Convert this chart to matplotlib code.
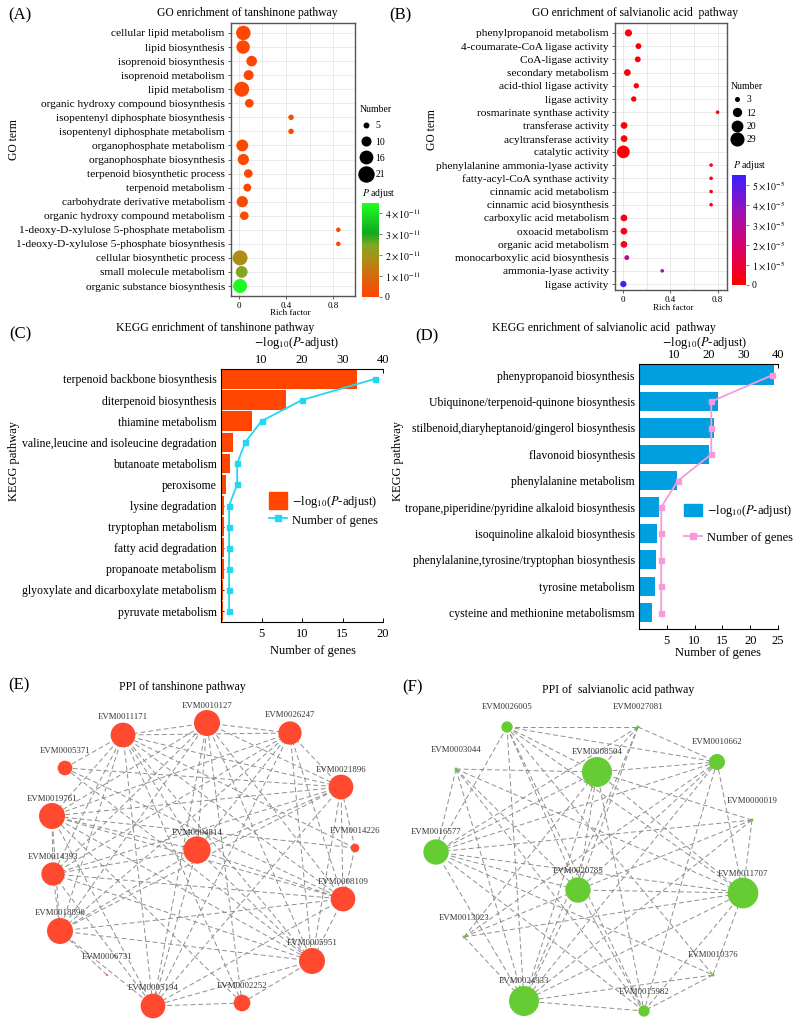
import numpy as np
import matplotlib
matplotlib.use("Agg")
import matplotlib.pyplot as plt
from matplotlib.colors import LinearSegmentedColormap, Normalize
from matplotlib.cm import ScalarMappable
from matplotlib.lines import Line2D
from matplotlib.patches import Patch

plt.rcParams['font.family'] = ['Liberation Serif', 'DejaVu Serif']
plt.rcParams['mathtext.fontset'] = 'stix'

# ---------------- data ----------------
# (A) GO enrichment, tanshinone
go_terms_a = ["cellular lipid metabolism", "lipid biosynthesis", "isoprenoid biosynthesis",
              "isoprenoid metabolism", "lipid metabolism", "organic hydroxy compound biosynthesis",
              "isopentenyl diphosphate biosynthesis", "isopentenyl diphosphate metabolism",
              "organophosphate metabolism", "organophosphate biosynthesis",
              "terpenoid biosynthetic process", "terpenoid metabolism",
              "carbohydrate derivative metabolism", "organic hydroxy compound metabolism",
              "1-deoxy-D-xylulose 5-phosphate metabolism", "1-deoxy-D-xylulose 5-phosphate biosynthesis",
              "cellular biosynthetic process", "small molecule metabolism", "organic substance biosynthesis"]
rich_a = [0.037, 0.035, 0.108, 0.082, 0.023, 0.088, 0.443, 0.443, 0.028, 0.037,
          0.079, 0.071, 0.028, 0.045, 0.845, 0.845, 0.009, 0.023, 0.009]
count_a = [20, 18, 13, 12, 21, 10, 6, 6, 15, 14, 10, 9, 14, 10, 5, 5, 21, 15, 19]
padj_a = [0.5e-12, 0.6e-12, 0.2e-12, 0.3e-12, 1e-12, 0.5e-12, 0.3e-12, 0.3e-12, 1e-12, 1.2e-12,
          0.6e-12, 0.8e-12, 1.5e-12, 2e-12, 0.3e-12, 0.3e-12, 1.8e-11, 2.4e-11, 4.4e-11]
size_breaks_a = [5, 10, 16, 21]

# (B) GO enrichment, salvianolic acid
go_terms_b = ["phenylpropanoid metabolism", "4-coumarate-CoA ligase activity", "CoA-ligase activity",
              "secondary metabolism", "acid-thiol ligase activity", "ligase activity",
              "rosmarinate synthase activity", "transferase activity", "acyltransferase activity",
              "catalytic activity", "phenylalanine ammonia-lyase activity",
              "fatty-acyl-CoA synthase activity", "cinnamic acid metabolism",
              "cinnamic acid biosynthesis", "carboxylic acid metabolism", "oxoacid metabolism",
              "organic acid metabolism", "monocarboxylic acid biosynthesis",
              "ammonia-lyase activity", "ligase activity"]
rich_b = [0.043, 0.128, 0.122, 0.034, 0.11, 0.088, 0.80, 0.006, 0.006, 0.0, 0.745, 0.745,
          0.745, 0.745, 0.005, 0.005, 0.005, 0.029, 0.33, 0.0]
count_b = [10, 7, 7, 9, 6, 6, 3, 9, 9, 29, 3, 3, 3, 3, 9, 9, 9, 5, 3, 8]
padj_b = [0.2e-5, 0.2e-5, 0.2e-5, 0.2e-5, 0.2e-5, 0.2e-5, 0.3e-5, 0.1e-5, 0.1e-5, 0.1e-5,
          0.3e-5, 0.3e-5, 0.3e-5, 0.3e-5, 0.4e-5, 0.4e-5, 0.4e-5, 2.8e-5, 3.5e-5, 5.2e-5]
size_breaks_b = [3, 12, 20, 29]

# (C) KEGG, tanshinone
kegg_c = ["terpenoid backbone biosynthesis", "diterpenoid biosynthesis", "thiamine metabolism",
          "valine,leucine and isoleucine degradation", "butanoate metabolism", "peroxisome",
          "lysine degradation", "tryptophan metabolism", "fatty acid degradation",
          "propanoate metabolism", "glyoxylate and dicarboxylate metabolism", "pyruvate metabolism"]
logp_c = [33.7, 16.0, 7.7, 2.9, 2.1, 1.2, 0.8, 0.8, 0.7, 0.7, 0.6, 0.6]
genes_c = [19, 10, 5, 3, 2, 2, 1, 1, 1, 1, 1, 1]

# (D) KEGG, salvianolic acid
kegg_d = ["phenypropanoid biosynthesis", "Ubiquinone/terpenoid-quinone biosynthesis",
          "stilbenoid,diaryheptanoid/gingerol biosynthesis", "flavonoid biosynthesis",
          "phenylalanine metabolism", "tropane,piperidine/pyridine alkaloid biosynthesis",
          "isoquinoline alkaloid biosynthesis", "phenylalanine,tyrosine/tryptophan biosynthesis",
          "tyrosine metabolism", "cysteine and methionine metabolismsm"]
logp_d = [38.8, 22.7, 21.7, 20.1, 11.0, 5.8, 5.3, 4.9, 4.6, 3.6]
genes_d = [24, 13, 13, 13, 7, 4, 4, 4, 4, 4]

# (E) PPI, tanshinone (layout positions in panel pixels)
ppi_e_names = ["EVM0010127", "EVM0011171", "EVM0026247", "EVM0005371", "EVM0021896",
               "EVM0019761", "EVM0014226", "EVM0004814", "EVM0014393", "EVM0008109",
               "EVM0018890", "EVM0006731", "EVM0005951", "EVM0005194", "EVM0002252"]
ppi_e_x = [207, 123, 290, 65, 341, 52, 355, 197, 53, 343, 60, 107, 312, 153, 242]
ppi_e_y = [33, 45, 43, 78, 97, 126, 158, 160, 184, 209, 241, 285, 271, 316, 313]
ppi_e_size = [26, 24.7, 23.3, 14.7, 24.7, 26, 8.7, 27.3, 23.3, 24.7, 26, 2, 26, 24.7, 16.7]
ppi_e_lab_y = [16, 27, 25, 61, 80, 109, 141, 143, 167, 192, 223, 267, 253, 298, 296]
hub_e = [0, 1, 2, 4, 5, 7, 8, 9, 10, 12, 13]
ppi_e_edges = [(a, b) for k, a in enumerate(hub_e) for b in hub_e[k + 1:]]
ppi_e_edges += [(3, 1), (3, 4), (3, 9), (3, 12), (6, 4), (6, 9), (6, 5), (6, 1),
                (11, 10), (14, 13), (14, 12), (14, 0), (14, 5), (14, 1)]

# (F) PPI, salvianolic acid
ppi_f_names = ["EVM0026005", "EVM0027081", "EVM0003044", "EVM0008504", "EVM0010662",
               "EVM0000019", "EVM0016577", "EVM0020785", "EVM0011707", "EVM0013023",
               "EVM0010376", "EVM0024933", "EVM0015982"]
ppi_f_x = [110, 241, 59, 200, 320, 355, 39, 181, 346, 67, 316, 127, 247]
ppi_f_y = [37, 37, 79, 82, 72, 130, 162, 200, 203, 247, 285, 311, 321]
ppi_f_size = [11.3, 3, 3, 30, 16, 3, 25.3, 25.3, 30.7, 3, 3, 30, 11.3]
ppi_f_lab_y = [17, 17, 60, 62, 52, 111, 142, 181, 184, 228, 265, 291, 302]
ppi_f_edges = [(3, 6), (3, 7), (3, 8), (3, 11), (6, 7), (6, 8), (6, 11), (7, 8), (7, 11), (8, 11),
               (0, 1), (0, 3), (0, 4), (0, 7), (0, 8), (0, 11), (1, 3), (1, 4), (1, 11),
               (2, 3), (2, 6), (2, 8), (2, 12), (3, 4), (4, 6), (4, 7), (4, 8), (4, 11), (4, 9),
               (5, 6), (5, 8), (5, 11), (5, 3), (6, 12), (6, 10), (9, 8), (9, 11),
               (10, 8), (10, 12), (10, 0), (11, 12), (3, 12), (7, 12),
               (1, 6), (1, 7), (0, 12), (2, 11), (4, 12), (9, 7), (10, 11), (12, 8),
               (5, 7), (2, 7), (0, 6), (9, 3)]

# ---------------- figure ----------------
W, H = 794, 1024
fig = plt.figure(figsize=(W / 100, H / 100), dpi=100)


def box(x0, y0, x1, y1):
    return fig.add_axes([x0 / W, 1 - y1 / H, (x1 - x0) / W, (y1 - y0) / H])


def ftext(x, y, s, **kw):
    kw.setdefault('ha', 'center')
    kw.setdefault('va', 'center')
    fig.text(x / W, 1 - y / H, s, **kw)


def dot_diam(c, breaks, dmin, dmax):
    c = np.sqrt(np.asarray(c, float))
    lo, hi = np.sqrt(breaks[0]), np.sqrt(breaks[-1])
    return dmin + (c - lo) / (hi - lo) * (dmax - dmin)


cmap_a = LinearSegmentedColormap.from_list("a", [(0, "#FF4500"), (0.22, "#D8680E"), (0.42, "#A89018"),
                                                  (0.55, "#80A824"), (0.68, "#10A820"), (1.0, "#20FF20")])
cmap_b = LinearSegmentedColormap.from_list("b", [(0, "#FF0000"), (0.35, "#D8006E"),
                                                  (0.65, "#A010B0"), (1.0, "#3A20FF")])


def go_panel(rect, terms, rich, count, padj, cmap, vmax, xlim, ylim, breaks, dmin, dmax):
    ax = box(*rect)
    y = np.arange(len(terms))
    d = dot_diam(count, breaks, dmin, dmax)
    ax.scatter(rich, y, s=(d * 0.72) ** 2, c=padj, cmap=cmap, vmin=0, vmax=vmax,
               linewidths=0, zorder=3)
    ax.set_xlim(*xlim)
    ax.set_ylim(*ylim)
    ax.set_yticks(y, terms, fontsize=8.2)
    ax.set_xticks([0, 0.4, 0.8], ["0", "0.4", "0.8"], fontsize=6.5)
    ax.set_xticks([0.2, 0.6], minor=True)
    ax.grid(True, which='both', color='#E6E6E6', lw=0.6)
    ax.set_axisbelow(True)
    ax.tick_params(axis='both', which='major', length=2.5, width=0.6, pad=2, color='#444')
    ax.tick_params(axis='x', which='minor', length=0)
    for s in ax.spines.values():
        s.set_color('#555555')
        s.set_linewidth(1.0)
    return ax


def size_legend(x, y, breaks, dmin, dmax, ls):
    d = dot_diam(breaks, breaks, dmin, dmax)
    handles = [Line2D([], [], ls='', marker='o', color='black', markersize=v * 0.72) for v in d]
    fig.legend(handles, [str(b) for b in breaks], title="Number", loc='upper left',
               bbox_to_anchor=(x / W, 1 - y / H), frameon=False, fontsize=7, title_fontsize=7,
               handletextpad=0.4, labelspacing=ls, borderpad=0, borderaxespad=0,
               alignment='left', handlelength=1.2)


def color_bar(rect, cmap, vmax, ticks, labels, title_xy):
    cax = box(*rect)
    cb = fig.colorbar(ScalarMappable(Normalize(0, vmax), cmap), cax=cax)
    cb.set_ticks(ticks, labels=labels)
    cb.outline.set_visible(False)
    cax.tick_params(length=2, width=0.6, color='#666', labelsize=7, pad=2)
    ftext(title_xy[0], title_xy[1], r"$P$ adjust", ha='left', fontsize=7)


# (A)
go_panel((231, 23, 355, 296), go_terms_a, rich_a, count_a, padj_a, cmap_a, 4.5e-11,
         (-0.068, 0.987), (18.71, -0.71), size_breaks_a, 4.5, 15)
size_legend(360, 105, size_breaks_a, 4.5, 15, 0.75)
color_bar((362, 203, 379, 297), cmap_a, 4.5e-11, [0, 1e-11, 2e-11, 3e-11, 4e-11],
          ["0"] + [r"$%d\times10^{-11}$" % k for k in range(1, 5)], (362, 193))
ftext(247, 13, "GO enrichment of tanshinone pathway", fontsize=8.4)
ftext(290, 313, "Rich factor", fontsize=6.5)
ftext(14, 140, "GO term", rotation=90, fontsize=8.4)
ftext(20, 15, "(A)", fontsize=12)

# (B)
go_panel((615, 23, 727, 290), go_terms_b, rich_b, count_b, padj_b, cmap_b, 5.5e-5,
         (-0.071, 0.88), (19.45, -0.75), size_breaks_b, 3.6, 12.7)
size_legend(731, 82, size_breaks_b, 3.6, 12.7, 0.45)
color_bar((732, 175, 746, 285), cmap_b, 5.5e-5, [0, 1e-5, 2e-5, 3e-5, 4e-5, 5e-5],
          ["0"] + [r"$%d\times10^{-5}$" % k for k in range(1, 6)], (733, 166))
ftext(635, 13, "GO enrichment of salvianolic acid  pathway", fontsize=8.4)
ftext(673, 308, "Rich factor", fontsize=6.5)
ftext(432, 130, "GO term", rotation=90, fontsize=8.4)
ftext(400, 15, "(B)", fontsize=12)


def kegg_panel(rect, paths, logp, genes, bar_color, line_color, bot_max, bot_ticks,
               ylim, bar_h, leg_xy, hh, ls):
    ax = box(*rect)
    ax2 = ax.twiny()
    y = np.arange(len(paths))
    ax.barh(y, logp, height=bar_h, color=bar_color, zorder=2)
    ax.set_xlim(0, 40)
    ax.set_ylim(*ylim)
    ax.set_yticks(y, paths, fontsize=8.5)
    ax.xaxis.tick_top()
    ax.set_xticks([10, 20, 30, 40], ["10", "20", "30", "40"], fontsize=9)
    ax.tick_params(axis='x', direction='in', length=3, width=0.7, pad=2)
    ax.tick_params(axis='y', direction='in', length=2.5, width=0.7, pad=3)
    ax.spines['right'].set_visible(False)
    ax.spines['bottom'].set_visible(False)
    ax.spines['top'].set_linewidth(0.8)
    ax.spines['left'].set_linewidth(0.8)
    ax2.plot(genes, y, color=line_color, marker='s', markersize=3.6, lw=1.3, zorder=3)
    ax2.set_xlim(0, bot_max)
    ax2.xaxis.tick_bottom()
    ax2.xaxis.set_label_position('bottom')
    ax2.set_xticks(bot_ticks, [str(t) for t in bot_ticks], fontsize=9)
    ax2.tick_params(axis='x', direction='in', length=3, width=0.7, pad=4)
    for s in ['top', 'left', 'right']:
        ax2.spines[s].set_visible(False)
    ax2.spines['bottom'].set_linewidth(0.8)
    ax2.legend([Patch(color=bar_color), Line2D([], [], color=line_color, marker='s', markersize=4, lw=1.3)],
               [r"$-$log$_{10}$($P$-adjust)", "Number of genes"], loc='upper left',
               bbox_to_anchor=(leg_xy[0] / W, 1 - leg_xy[1] / H), bbox_transform=fig.transFigure,
               frameon=False, fontsize=9, handlelength=1.45, handleheight=hh, labelspacing=ls,
               handletextpad=0.4, borderpad=0, borderaxespad=0)
    return ax


# (C)
kegg_panel((221, 369, 383, 622), kegg_c, logp_c, genes_c, "#FF4500", "#22D8F0", 20,
           [5, 10, 15, 20], (11.52, -0.47), 0.92, (269, 492), 1.7, 0.15)
ftext(215, 328, "KEGG enrichment of tanshinone pathway", fontsize=8.5)
ftext(297, 343, r"$-$log$_{10}$($P$-adjust)", fontsize=9)
ftext(313, 651, "Number of genes", fontsize=9)
ftext(14, 461, "KEGG pathway", rotation=90, fontsize=9)
ftext(20, 334, "(C)", fontsize=12)

# (D)
kegg_panel((639, 364, 778, 629), kegg_d, logp_d, genes_d, "#00A0E0", "#F79ADA", 25,
           [5, 10, 15, 20, 25], (9.62, -0.42), 0.73, (684, 503), 1.15, 0.95)
ftext(604, 328, "KEGG enrichment of salvianolic acid  pathway", fontsize=8.5)
ftext(705, 343, r"$-$log$_{10}$($P$-adjust)", fontsize=9)
ftext(718, 653, "Number of genes", fontsize=9)
ftext(398, 461, "KEGG pathway", rotation=90, fontsize=9)
ftext(427, 336, "(D)", fontsize=12)


def ppi_panel(rect, names, nx, ny, nd, lab_y, edges, color):
    ax = box(*rect)
    ax.set_xlim(0, rect[2] - rect[0])
    ax.set_ylim(rect[3] - rect[1], 0)
    for i, j in edges:
        ax.plot([nx[i], nx[j]], [ny[i], ny[j]], color='#8E8E8E', lw=0.7, dashes=(5, 3), zorder=1)
    ax.scatter(nx, ny, s=(np.asarray(nd) * 0.72) ** 2, color=color, linewidths=0, zorder=2)
    for k, name in enumerate(names):
        ax.text(nx[k], lab_y[k], name, ha='center', va='center', fontsize=6.3, color='#333333', zorder=3)
    ax.axis('off')


# (E)
ppi_panel((0, 690, 397, 1024), ppi_e_names, ppi_e_x, ppi_e_y, ppi_e_size, ppi_e_lab_y,
          ppi_e_edges, "#FF4A30")
ftext(182, 687, "PPI of tanshinone pathway", fontsize=8.5)
ftext(19, 685, "(E)", fontsize=12)

# (F)
ppi_panel((397, 690, 794, 1024), ppi_f_names, ppi_f_x, ppi_f_y, ppi_f_size, ppi_f_lab_y,
          ppi_f_edges, "#66CC33")
ftext(618, 690, "PPI of  salvianolic acid pathway", fontsize=8.5)
ftext(412, 687, "(F)", fontsize=12)

fig.savefig("out.png", dpi=100)
